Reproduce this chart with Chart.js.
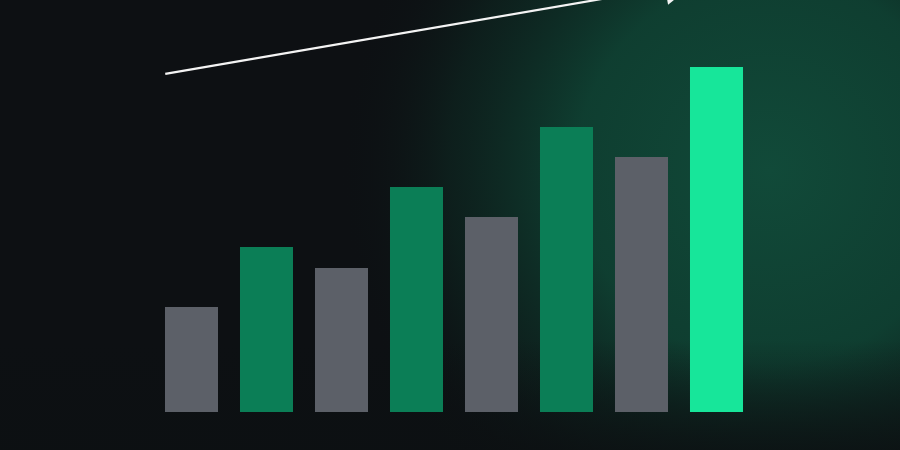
<!DOCTYPE html>
<html>
<head>
<meta charset="utf-8">
<title>Growth bars</title>
<script src="https://cdn.jsdelivr.net/npm/chart.js@4/dist/chart.umd.min.js"></script>
<style>
  html, body { margin: 0; padding: 0; background: #0d1013; }
  #wrap { width: 900px; height: 450px; position: relative; }
</style>
</head>
<body>
<div id="wrap"><canvas id="chart"></canvas></div>
<script>
// ---------- Data ----------
const categories = ['P1', 'P2', 'P3', 'P4', 'P5', 'P6', 'P7', 'P8'];
const values = [35, 55, 48, 75, 65, 95, 85, 115];

// trend arrow, in bar-index units on x and value units on y
const trendX = [-0.35, 6.71];
const trendY = [112.7, 143];

// ---------- Colours ----------
const GRAY = '#5c6068';
const GREEN = '#0b7e56';
const BRIGHT = '#17e69a';

const barColor = (ctx) => {
  const i = ctx.dataIndex;
  if (i === values.length - 1) return BRIGHT;
  return i % 2 === 0 ? GRAY : GREEN;
};

// dark backdrop with a green glow on the right
const backdrop = {
  id: 'backdrop',
  beforeDraw(chart) {
    const { ctx, width, height } = chart;
    ctx.save();
    ctx.fillStyle = '#0d1013';
    ctx.fillRect(0, 0, width, height);

    const g = ctx.createRadialGradient(770, 170, 0, 770, 170, 430);
    g.addColorStop(0, 'rgba(17,74,57,1)');
    g.addColorStop(0.45, 'rgba(15,66,51,0.92)');
    g.addColorStop(0.75, 'rgba(14,48,39,0.45)');
    g.addColorStop(1, 'rgba(13,16,19,0)');
    ctx.fillStyle = g;
    ctx.fillRect(0, 0, width, height);

    const b = ctx.createLinearGradient(0, 340, 0, height);
    b.addColorStop(0, 'rgba(12,16,18,0)');
    b.addColorStop(1, 'rgba(12,16,18,0.8)');
    ctx.fillStyle = b;
    ctx.fillRect(0, 340, width, height - 340);
    ctx.restore();
  }
};

// arrowhead at the end of the trend line
const arrowHead = {
  id: 'arrowHead',
  afterDatasetsDraw(chart) {
    const meta = chart.getDatasetMeta(0);
    const pts = meta.data;
    if (pts.length < 2) return;
    const a = pts[pts.length - 2], b = pts[pts.length - 1];
    const ang = Math.atan2(b.y - a.y, b.x - a.x);
    const len = 30, half = 17;
    const { ctx } = chart;
    ctx.save();
    ctx.translate(b.x, b.y);
    ctx.rotate(ang);
    ctx.beginPath();
    ctx.moveTo(0, 0);
    ctx.lineTo(-len, half);
    ctx.lineTo(-len, -half);
    ctx.closePath();
    ctx.fillStyle = '#f4f4f4';
    ctx.fill();
    ctx.restore();
  }
};

// ---------- Chart ----------
new Chart(document.getElementById('chart'), {
  type: 'bar',
  data: {
    labels: categories,
    datasets: [
      {
        type: 'line',
        label: 'Trend',
        xAxisID: 'xt',
        data: trendX.map((x, i) => ({ x, y: trendY[i] })),
        borderColor: '#f4f4f4',
        borderWidth: 2.2,
        pointRadius: 0,
        clip: false,
        order: 0
      },
      {
        label: 'Value',
        data: values,
        backgroundColor: barColor,
        borderWidth: 0,
        grouped: false,
        barPercentage: 0.707,
        categoryPercentage: 1,
        order: 1
      }
    ]
  },
  options: {
    responsive: true,
    maintainAspectRatio: false,
    animation: false,
    layout: { padding: { left: 154, right: 146, top: 22, bottom: 38 } },
    scales: {
      x: { display: false },
      xt: { type: 'linear', display: false, offset: false, min: -0.5, max: 7.5 },
      y: { display: false, min: 0, max: 130 }
    },
    plugins: { legend: { display: false }, tooltip: { enabled: false } }
  },
  plugins: [backdrop, arrowHead]
});
</script>
</body>
</html>
